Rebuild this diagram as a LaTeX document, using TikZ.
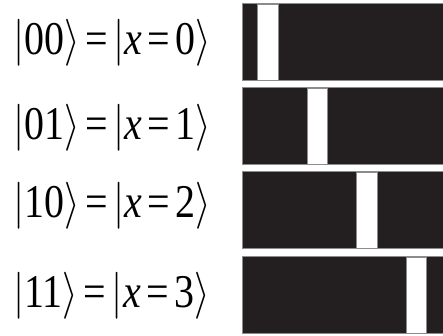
\documentclass[tikz,border=0pt]{standalone}
\usepackage{unicode-math}
\setmainfont{Liberation Serif}
\setmathfont{Latin Modern Math}
\definecolor{barblack}{RGB}{35,31,32}
\tikzset{
  eq/.style={anchor=base west, inner sep=0pt, font=\fontsize{47}{50}\selectfont},
  bar/.style={fill=barblack, draw=black!45, line width=0.5pt},
  slit/.style={fill=white, draw=black!45, line width=0.5pt}
}
\newcommand{\myket}[1]{|#1\rangle}
\newcommand{\myeq}{\mathrel{\text{=}}}
\newcommand{\myline}[2]{\scalebox{0.85}[1]{$\thickmuskip=2.5mu\myket{\text{#1}}\myeq\myket{\textit{x}\myeq\text{#2}}$}}
\begin{document}
\begin{tikzpicture}[x=1pt,y=-1pt]
\useasboundingbox (0,0) rectangle (443,336);
\fill[white] (0,0) rectangle (443,336);
% equations
\node[eq] (e0) at (13,55) {\myline{00}{0}};
\node[eq] (e1) at (13,140) {\myline{01}{1}};
\node[eq] (e2) at (13,217) {\myline{10}{2}};
\node[eq] (e3) at (13,307) {\myline{11}{3}};
% bars
\path[bar] (242,3) rectangle (443,80);
\path[bar] (242,87) rectangle (443,164);
\path[bar] (242,171) rectangle (443,248);
\path[bar] (242,256) rectangle (443,333);
% slits
\path[slit] (257,4) rectangle (278,80);
\path[slit] (307,88) rectangle (327,164);
\path[slit] (356,172) rectangle (377,248);
\path[slit] (406,257) rectangle (426,333);
\end{tikzpicture}
\end{document}
